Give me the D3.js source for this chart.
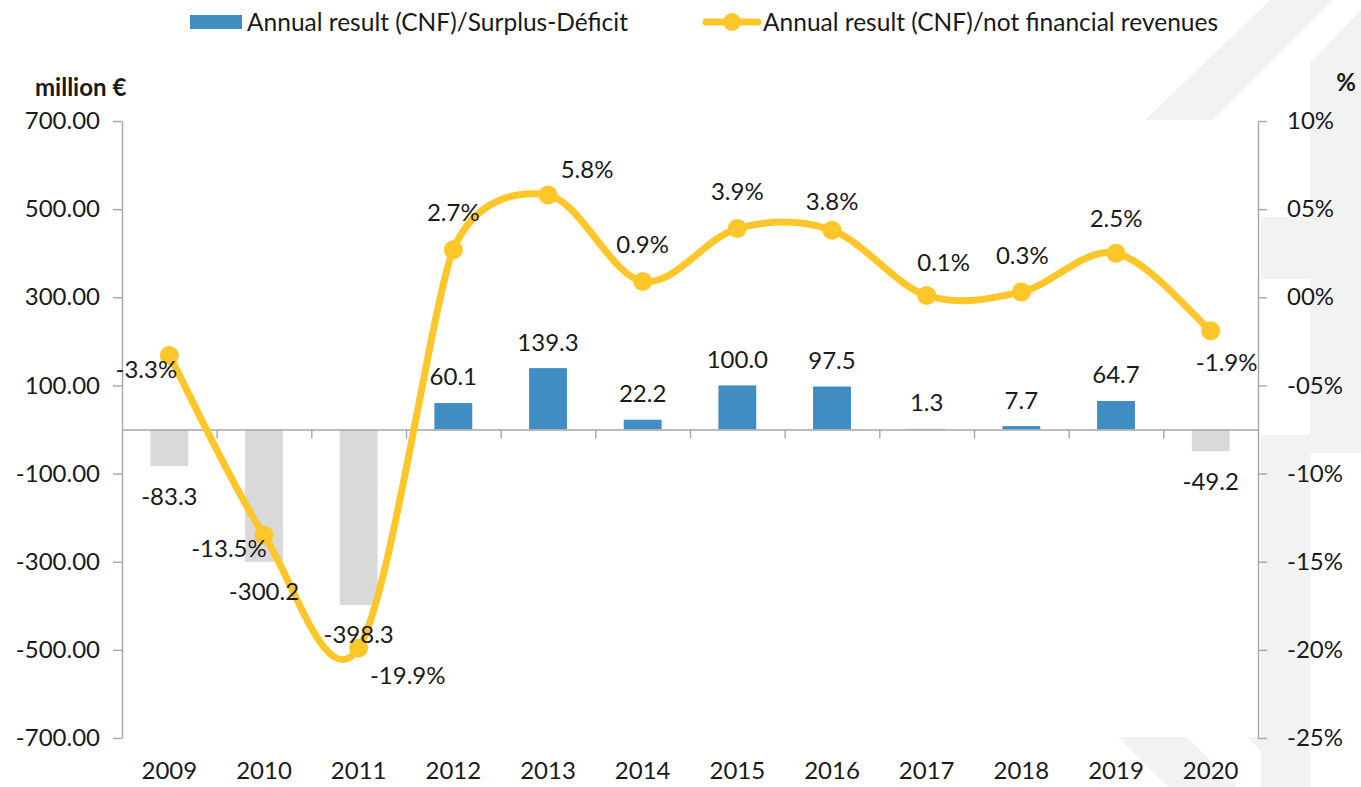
<!DOCTYPE html>
<html>
<head>
<meta charset="utf-8">
<script src="https://cdn.jsdelivr.net/npm/d3@7"></script>
<style>
  html, body { margin: 0; padding: 0; background: #ffffff; }
  svg { display: block; font-family: Lato, "Open Sans", sans-serif; }
</style>
</head>
<body>
<svg id="chart" width="1361" height="787"></svg>
<script>
// ---- data ----
const years = ["2009","2010","2011","2012","2013","2014","2015","2016","2017","2018","2019","2020"];
const surplusDeficit = [-83.3, -300.2, -398.3, 60.1, 139.3, 22.2, 100.0, 97.5, 1.3, 7.7, 64.7, -49.2];
const resultOverRevenues = [-3.3, -13.5, -19.9, 2.7, 5.8, 0.9, 3.9, 3.8, 0.1, 0.3, 2.5, -1.9];
const leftTicks = [700, 500, 300, 100, -100, -300, -500, -700];
const leftTickLabels = ["700.00", "500.00", "300.00", "100.00", "-100.00", "-300.00", "-500.00", "-700.00"];
const rightTicks = [10, 5, 0, -5, -10, -15, -20, -25];
const rightTickLabels = ["10%", "05%", "00%", "-05%", "-10%", "-15%", "-20%", "-25%"];
const seriesNames = ["Annual result (CNF)/Surplus-Déficit", "Annual result (CNF)/not financial revenues"];

// ---- layout / style ----
const W = 1361, H = 787;
const plot = { left: 122, right: 1258, top: 121, bottom: 738 };
const colors = { pos: "#3f8dc3", neg: "#d9d9d9", line: "#ffc629", axis: "#a6a6a6", text: "#1a1a1a", mark: "#f2f2f2" };
// label offsets for line data labels (dx, dy from point)
const lineLabelOffsets = [[-23,14],[-35,13],[49,28],[0,-37],[39,-25],[0,-37],[0,-37],[0,-29],[17,-33],[1,-36],[0,-35],[16,32]];

const svg = d3.select("#chart");

// watermark shapes (background)
const wm = svg.append("g").attr("fill", colors.mark);
[
  [[1270,0],[1333,0],[1213,120],[1145,120]],
  [[1361,10],[1361,453],[1310,453],[1310,63]],
  [[1261,217],[1310,217],[1310,279],[1261,279]],
  [[1261,435],[1310,435],[1310,787],[1261,787]],
  [[1247,737],[1261,737],[1261,787],[1297,787]],
  [[1118,737],[1187,737],[1237,787],[1168,787]]
].forEach(p => wm.append("polygon").attr("points", p.map(q => q.join(",")).join(" ")));

const x = d3.scaleBand().domain(years).range([plot.left, plot.right]).paddingInner(0.6).paddingOuter(0.3);
const xIdx = d3.scaleLinear().domain([0, years.length]).range([plot.left, plot.right]);
const yL = d3.scaleLinear().domain([-700, 700]).range([plot.bottom, plot.top]);
const yR = d3.scaleLinear().domain([-25, 10]).range([plot.bottom, plot.top]);

const fontSize = 24;

// bars
svg.append("g").selectAll("rect").data(years).join("rect")
  .attr("x", d => x(d))
  .attr("width", x.bandwidth())
  .attr("y", (d, i) => yL(Math.max(0, surplusDeficit[i])))
  .attr("height", (d, i) => Math.abs(yL(surplusDeficit[i]) - yL(0)))
  .attr("fill", (d, i) => surplusDeficit[i] >= 0 ? colors.pos : colors.neg);

// axes
function styleAxis(g) {
  g.selectAll(".domain").attr("stroke", colors.axis).attr("stroke-width", 1.4);
  g.selectAll(".tick line").attr("stroke", colors.axis).attr("stroke-width", 1.4);
  g.selectAll(".tick text").attr("fill", colors.text).style("font-size", fontSize + "px").style("font-family", "Lato, sans-serif");
}

svg.append("g").attr("transform", `translate(${plot.left},0)`)
  .call(d3.axisLeft(yL).tickValues(leftTicks).tickSize(9).tickSizeOuter(0).tickPadding(13)
    .tickFormat((d, i) => leftTickLabels[i]))
  .call(styleAxis);

svg.append("g").attr("transform", `translate(${plot.right},0)`)
  .call(d3.axisRight(yR).tickValues(rightTicks).tickSize(9).tickSizeOuter(0).tickPadding(20)
    .tickFormat((d, i) => rightTickLabels[i]))
  .call(styleAxis);

// zero line with category boundary ticks
svg.append("g").attr("transform", `translate(0,${yL(0)})`)
  .call(d3.axisBottom(xIdx).tickValues(d3.range(1, years.length)).tickSize(9).tickSizeOuter(0).tickFormat(""))
  .call(styleAxis);

// category labels at the bottom
svg.append("g").attr("transform", `translate(0,${plot.bottom})`)
  .call(d3.axisBottom(x).tickSize(0).tickPadding(24))
  .call(g => g.select(".domain").remove())
  .call(styleAxis);

// smoothed line (spreadsheet-style Bezier smoothing)
const pts = years.map((d, i) => [x(d) + x.bandwidth() / 2, yR(resultOverRevenues[i])]);
function smoothPath(points) {
  const n = points.length;
  const dist = (a, b) => Math.hypot(b[0] - a[0], b[1] - a[1]);
  const tan = points.map((pt, i) => {
    const prev = points[Math.max(0, i - 1)], next = points[Math.min(n - 1, i + 1)];
    let tx = (next[0] - prev[0]) / 6, ty = (next[1] - prev[1]) / 6;
    const arm = Math.hypot(tx, ty);
    const d0 = i > 0 ? dist(prev, pt) : Infinity;
    const d1 = i < n - 1 ? dist(pt, next) : Infinity;
    const cap = 0.5 * Math.min(d0, d1);
    if (arm > cap && arm > 0) { const s = cap / arm; tx *= s; ty *= s; }
    return [tx, ty];
  });
  const p = d3.path();
  p.moveTo(points[0][0], points[0][1]);
  for (let i = 0; i < n - 1; i++) {
    const a = points[i], b = points[i + 1];
    p.bezierCurveTo(a[0] + tan[i][0], a[1] + tan[i][1], b[0] - tan[i + 1][0], b[1] - tan[i + 1][1], b[0], b[1]);
  }
  return p.toString();
}
svg.append("path")
  .attr("d", smoothPath(pts))
  .attr("fill", "none")
  .attr("stroke", colors.line)
  .attr("stroke-width", 7)
  .attr("stroke-linecap", "round");

svg.append("g").selectAll("circle").data(pts).join("circle")
  .attr("cx", d => d[0]).attr("cy", d => d[1]).attr("r", 9.5)
  .attr("fill", colors.line);

// bar value labels
svg.append("g").selectAll("text").data(years).join("text")
  .attr("x", d => x(d) + x.bandwidth() / 2)
  .attr("y", (d, i) => surplusDeficit[i] >= 0 ? yL(surplusDeficit[i]) - 26 : yL(surplusDeficit[i]) + 30)
  .attr("dy", "0.35em")
  .attr("text-anchor", "middle")
  .attr("fill", colors.text)
  .style("font-size", fontSize + "px")
  .text((d, i) => surplusDeficit[i].toFixed(1));

// line labels
svg.append("g").selectAll("text").data(years).join("text")
  .attr("x", (d, i) => pts[i][0] + lineLabelOffsets[i][0])
  .attr("y", (d, i) => pts[i][1] + lineLabelOffsets[i][1])
  .attr("dy", "0.35em")
  .attr("text-anchor", "middle")
  .attr("fill", colors.text)
  .style("font-size", fontSize + "px")
  .text((d, i) => resultOverRevenues[i].toFixed(1) + "%");

// axis titles
svg.append("text").attr("x", 35).attr("y", 88).attr("dy", "0.35em")
  .attr("fill", colors.text).style("font-size", "24px").style("font-weight", "bold").text("million €");
svg.append("text").attr("x", 1356).attr("y", 83).attr("dy", "0.35em").attr("text-anchor", "end")
  .attr("fill", colors.text).style("font-size", "24px").style("font-weight", "bold").text("%");

// legend
const lg = svg.append("g");
lg.append("rect").attr("x", 190).attr("y", 15).attr("width", 52).attr("height", 14).attr("fill", colors.pos);
lg.append("text").attr("x", 247).attr("y", 22).attr("dy", "0.35em").attr("fill", colors.text)
  .style("font-size", "24.5px").text(seriesNames[0]);
lg.append("line").attr("x1", 706).attr("x2", 758).attr("y1", 22).attr("y2", 22)
  .attr("stroke", colors.line).attr("stroke-width", 7).attr("stroke-linecap", "round");
lg.append("circle").attr("cx", 732).attr("cy", 22).attr("r", 9).attr("fill", colors.line);
lg.append("text").attr("x", 763).attr("y", 22).attr("dy", "0.35em").attr("fill", colors.text)
  .style("font-size", "24.5px").text(seriesNames[1]);
</script>
</body>
</html>
